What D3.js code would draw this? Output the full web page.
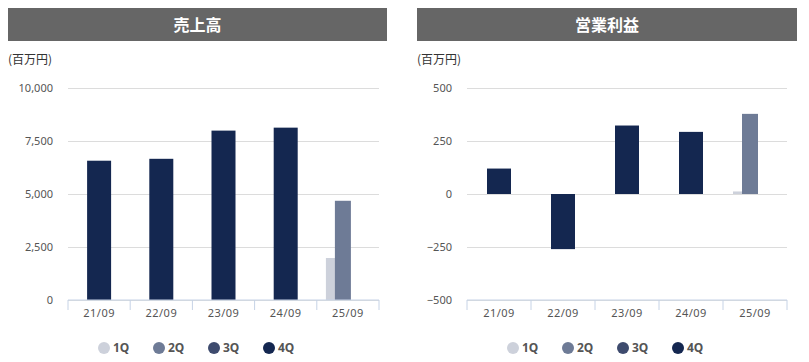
<!DOCTYPE html>
<html>
<head>
<meta charset="utf-8">
<script src="https://cdn.jsdelivr.net/npm/d3@7"></script>
<style>
  body { margin: 0; background: #fff; }
  svg { display: block; font-family: "Noto Sans", "Noto Sans CJK JP", sans-serif; }
</style>
</head>
<body>
<script>
// data
const categories = ['21/09', '22/09', '23/09', '24/09', '25/09']
const quarters = ['1Q', '2Q', '3Q', '4Q']

const sales1Q = [null, null, null, null, 1980]
const sales2Q = [null, null, null, null, 4680]
const sales3Q = [null, null, null, null, null]
const sales4Q = [6570, 6660, 7990, 8130, null]
const salesTicks = [0, 2500, 5000, 7500, 10000]

const op1Q = [null, null, null, null, 12]
const op2Q = [null, null, null, null, 378]
const op3Q = [null, null, null, null, null]
const op4Q = [120, -260, 323, 293, null]
const opTicks = [-500, -250, 0, 250, 500]

const colors = {'1Q': '#cdd1db', '2Q': '#6e7b96', '3Q': '#3e4b6e', '4Q': '#142750'}
// bar placement per quarter (offset from band centre, width)
const barShape = {'1Q': [-22, 24], '2Q': [-13, 16], '3Q': [-4, 16], '4Q': [-12, 24]}

const W = 809, H = 362

const svg = d3.select('body').append('svg')
	.attr('width', W)
	.attr('height', H)

function panel(opt) {
	const g = svg.append('g')

	// header
	g.append('rect')
		.attr('x', opt.left)
		.attr('y', 8)
		.attr('width', opt.headerW)
		.attr('height', 33)
		.attr('fill', '#666666')
	g.append('text')
		.attr('x', opt.left + opt.headerW / 2)
		.attr('y', 25)
		.attr('dy', '0.36em')
		.attr('text-anchor', 'middle')
		.attr('fill', '#fff')
		.attr('font-size', 16)
		.attr('font-weight', 'bold')
		.attr('font-family', '"Noto Sans CJK JP", sans-serif')
		.text(opt.title)

	g.append('text')
		.attr('x', opt.left)
		.attr('y', 60)
		.attr('dy', '0.36em')
		.attr('fill', '#333')
		.attr('font-size', 12)
		.attr('font-family', '"Noto Sans CJK JP", sans-serif')
		.text('(百万円)')

	const x = d3.scaleBand()
		.domain(categories)
		.range(opt.xRange)
		.padding(0)

	const y = d3.scaleLinear()
		.domain(d3.extent(opt.ticks))
		.range([300, 88])

	// y axis + grid
	const yAxis = d3.axisLeft(y)
		.tickValues(opt.ticks)
		.tickSize(0)
		.tickPadding(15)
		.tickFormat(d3.format(','))

	g.append('g')
		.attr('transform', `translate(${opt.xRange[0]},0)`)
		.call(yAxis)
		.call(a => a.select('.domain').remove())
		.call(a => a.selectAll('.tick text')
			.attr('fill', '#555')
			.attr('font-size', 11)
			.attr('font-family', '"Noto Sans", sans-serif'))
		.selectAll('.tick line')
		.clone()
		.attr('x2', opt.xRange[1] - opt.xRange[0])
		.attr('stroke', '#dcdcdc')

	// bars
	const rows = []
	quarters.forEach((q, qi) => {
		opt.series[qi].forEach((v, i) => {
			if (v != null) rows.push({q: q, cat: categories[i], v: v})
		})
	})

	g.append('g')
		.selectAll('rect')
		.data(rows)
		.join('rect')
		.attr('x', d => x(d.cat) + x.bandwidth() / 2 + barShape[d.q][0])
		.attr('width', d => barShape[d.q][1])
		.attr('y', d => Math.min(y(d.v), y(0)))
		.attr('height', d => Math.abs(y(d.v) - y(0)))
		.attr('fill', d => colors[d.q])

	// x axis
	const xAxis = d3.axisBottom(x)
		.tickSize(0)
		.tickPadding(9)

	const xg = g.append('g')
		.attr('transform', `translate(0,300)`)
		.call(xAxis)
	xg.select('.domain')
		.attr('stroke', '#c6d3e6')
		.attr('d', `M${opt.xRange[0]},0H${opt.xRange[1]}`)
	xg.selectAll('.tick text')
		.attr('fill', '#555')
		.attr('font-size', 11)
		.attr('letter-spacing', 0.5)
		.attr('font-family', '"Noto Sans", sans-serif')
	g.append('g')
		.selectAll('line')
		.data(categories.concat(['end']))
		.join('line')
		.attr('x1', d => d === 'end' ? opt.xRange[1] : x(d))
		.attr('x2', d => d === 'end' ? opt.xRange[1] : x(d))
		.attr('y1', 300)
		.attr('y2', 310)
		.attr('stroke', '#c6d3e6')

	// legend
	const leg = g.append('g')
		.selectAll('g')
		.data(quarters)
		.join('g')
		.attr('transform', (d, i) => `translate(${opt.legendX + i * 55},348)`)
	leg.append('circle')
		.attr('r', 6)
		.attr('fill', d => colors[d])
	leg.append('text')
		.attr('x', 9)
		.attr('dy', '0.36em')
		.attr('fill', '#555')
		.attr('font-size', 12)
		.attr('font-weight', 'bold')
		.attr('font-family', '"Noto Sans", sans-serif')
		.text(d => d)
}

panel({
	title: '売上高',
	left: 8, headerW: 379,
	xRange: [68, 379],
	ticks: salesTicks,
	series: [sales1Q, sales2Q, sales3Q, sales4Q],
	legendX: 104
})

panel({
	title: '営業利益',
	left: 417, headerW: 380,
	xRange: [467, 787],
	ticks: opTicks,
	series: [op1Q, op2Q, op3Q, op4Q],
	legendX: 513
})
</script>
</body>
</html>
